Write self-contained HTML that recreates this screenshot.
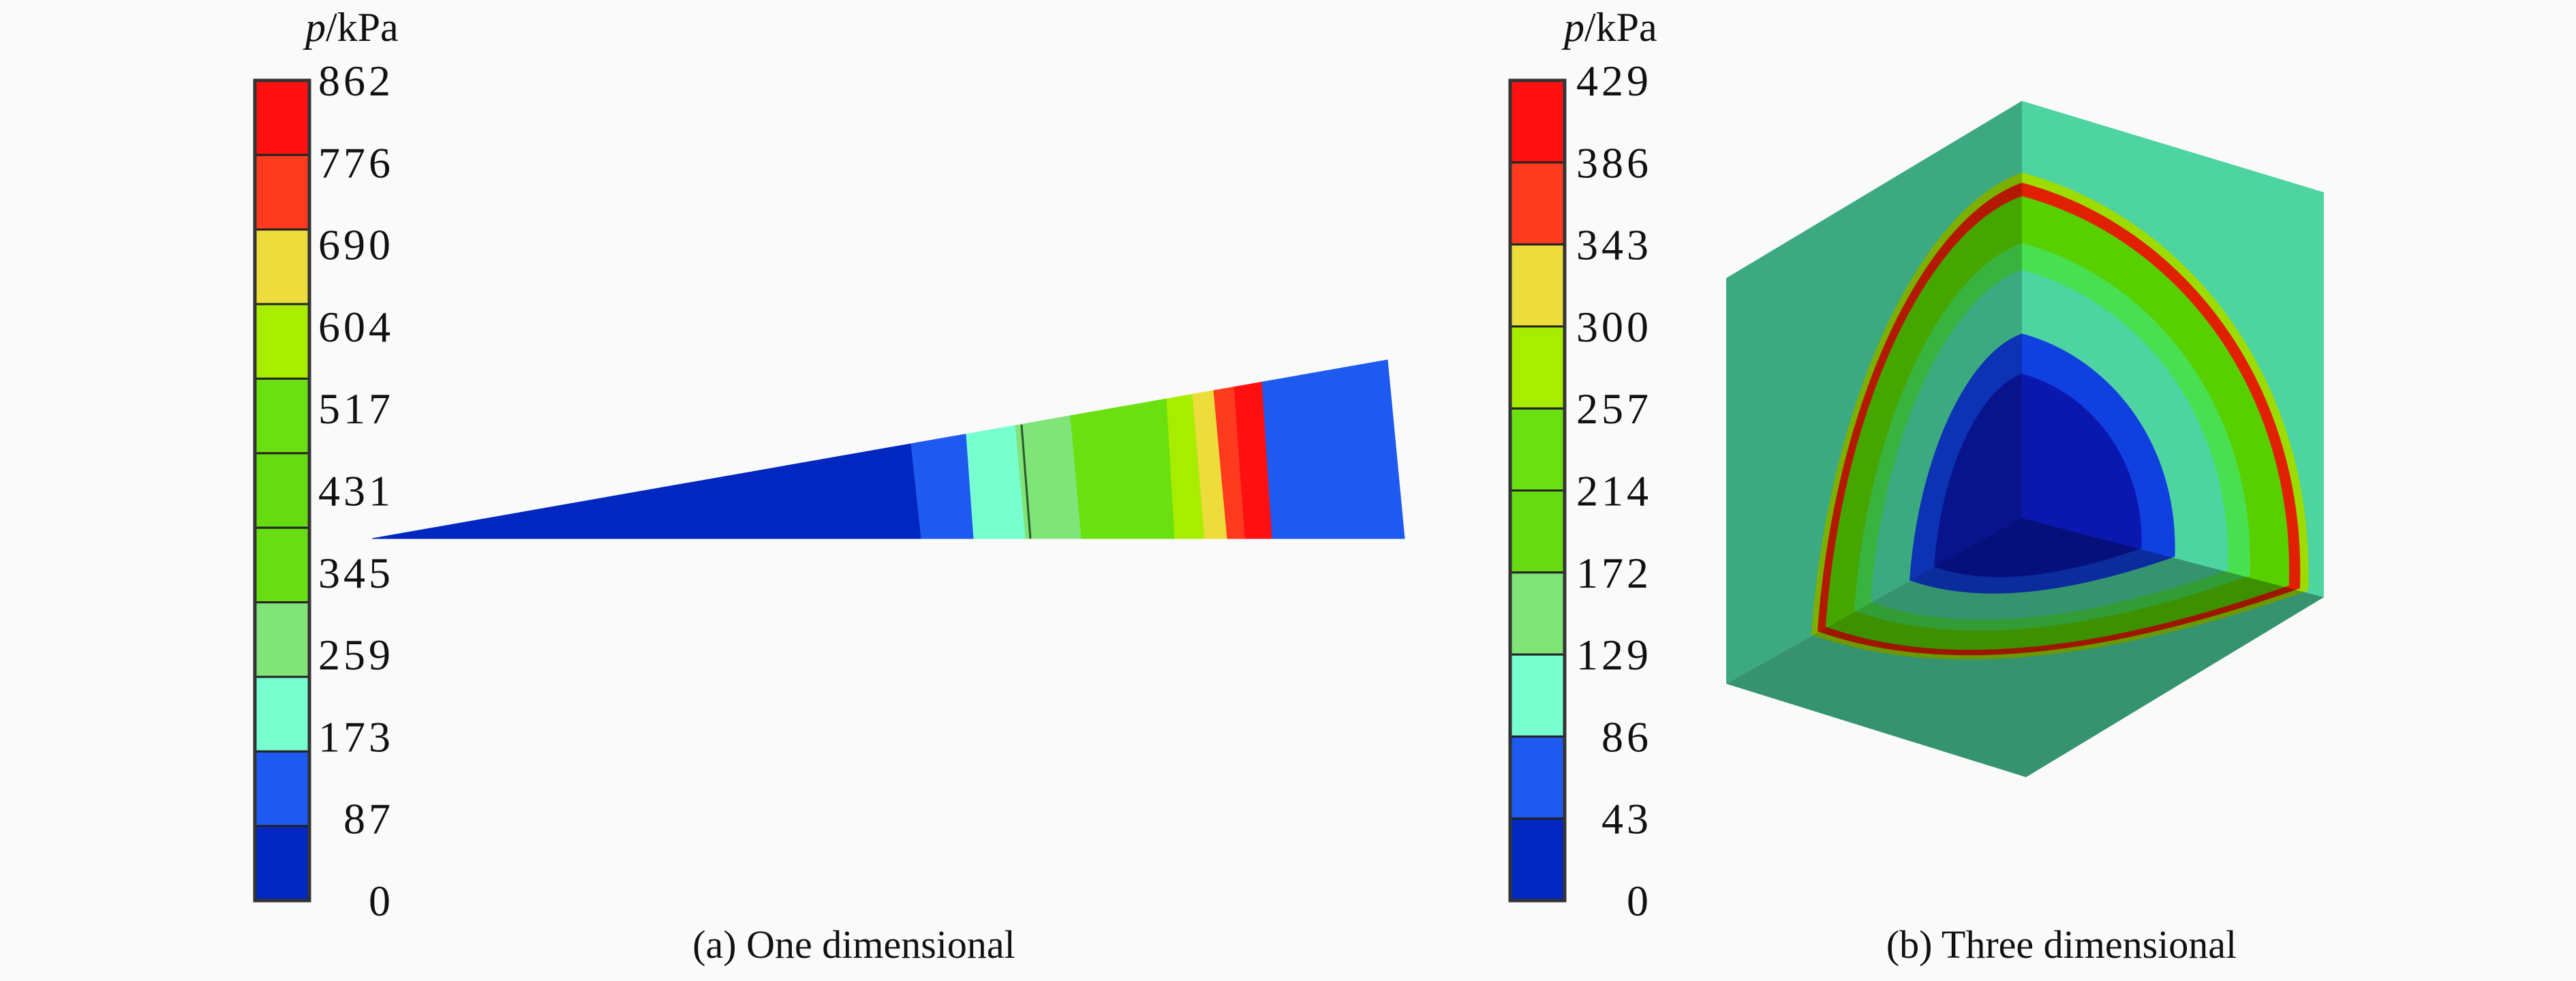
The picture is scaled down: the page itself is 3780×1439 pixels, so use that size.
<!DOCTYPE html>
<html><head><meta charset="utf-8"><style>
html,body{margin:0;padding:0;background:#fafafa}
svg{display:block}
text{font-family:"Liberation Serif",serif;fill:#111}
</style></head><body>
<svg id="fig" width="3780" height="1439" viewBox="0 0 3780 1439">
<rect width="3780" height="1439" fill="#fafafa"/>
<g id="left"></g>
<g id="right"></g>
</svg>
<script>
const leftLabels=["862","776","690","604","517","431","345","259","173","87","0"];
const leftColors=["#ff1010","#ff3a1e","#ecdc3c","#a8ec00","#6ae010","#66dc10","#68de12","#80e478","#78ffd0","#1e5af0","#0028c0"];
const rightLabels=["429","386","343","300","257","214","172","129","86","43","0"];
const rightColors=["#ff1010","#ff3a1e","#ecdc3c","#a8ec00","#6ae010","#66dc10","#80e478","#78ffd0","#1e5af0","#0028c0"];
// wedge band boundaries (x at bottom edge, x at top edge) and colors
const wedgeBottom=[546,1352,1429,1505,1587,1724,1768,1801,1827,1867,2061];
const wedgeTop=[546,1337,1418,1490,1571,1712,1750,1781,1811,1852,2036];
const wedgeColors=["#0028c0","#1e5af0","#78ffd0","#80e478","#6ae010","#a8ec00","#ecdc3c","#ff3a1e","#ff1010","#1e5af0"];
// shells (scale about inner corner) and colors, outer to inner
const shellScale=[1.03,1.0,0.96,0.82,0.74,0.55,0.43];
const shellColors=["#9cdc00","#e02000","#58d000","#48e050","#4dd4a0","#1040e0","#0a18b0"];
const NS="http://www.w3.org/2000/svg";
function mk(tag,attrs,parent){const e=document.createElementNS(NS,tag);for(const k in attrs)e.setAttribute(k,attrs[k]);parent.appendChild(e);return e;}
function colorbar(parent,x0,w,y0,y1,labels,colors,labelRight,titleX){
  const n=colors.length,h=(y1-y0)/n;
  colors.forEach((c,i)=>{
    const r=mk('rect',{x:x0,y:y0+i*h,width:w,height:h,fill:c,stroke:'#222','stroke-width':3},parent);
    
    
  });
  const fr=mk('rect',{x:x0,y:y0,width:w,height:y1-y0,fill:'none',stroke:'#333','stroke-width':5},parent);
  
  
  const step=(y1-y0)/(labels.length-1);
  labels.forEach((l,i)=>{
    const t=mk('text',{x:labelRight,y:y0+i*step+22,'text-anchor':'end','font-size':64,'letter-spacing':5,'font-family':'Liberation Serif, serif'},parent);
    t.textContent=l;
    
    
  });
  const tt=mk('text',{x:titleX,y:60,'font-size':60,'font-family':'Liberation Serif, serif'},parent);
  tt.innerHTML='<tspan font-style="italic">p</tspan>/kPa';
  
  
}
const L=document.getElementById('left'),R=document.getElementById('right');
colorbar(L,374,80,118,1321,leftLabels,leftColors,578,448);
colorbar(R,2216,80,118,1321,rightLabels,rightColors,2424,2295);
// wedge
const tipX=546,tipY=790,topRX=2036,topRY=528,botY=790;
function topY(x){return tipY+(topRY-tipY)*(x-tipX)/(topRX-tipX);}
for(let i=0;i<wedgeColors.length;i++){
  const xb0=wedgeBottom[i],xb1=wedgeBottom[i+1],xt0=wedgeTop[i],xt1=wedgeTop[i+1];
  let pts;
  if(i===0) pts=[[tipX,tipY],[xt1,topY(xt1)],[xb1,botY]];
  else pts=[[xt0,topY(xt0)],[xt1,topY(xt1)],[xb1,botY],[xb0,botY]];
  const p=mk('polygon',{points:pts.map(q=>q.join(',')).join(' '),fill:wedgeColors[i],stroke:wedgeColors[i],'stroke-width':1},L);
  
  
}
const ln=mk('line',{x1:1499,y1:topY(1496),x2:1512,y2:botY,stroke:'#2a5a2a','stroke-width':3},L);


const capA=mk('text',{x:1253,y:1405,'text-anchor':'middle','font-size':58,'font-family':'Liberation Serif, serif'},L);
capA.textContent='(a) One dimensional';


// cube
const C=[2967,760];
const cube=mk('g',{},R);


const leftFace='2533,408 2967,148 2967,760 2533,1003';
const rightFace='2967,148 3410,282 3410,876 2967,760';
const floorFace='2533,1003 2967,760 3410,876 2973,1140';
mk('polygon',{points:leftFace,fill:'#4dd4a0'},cube);
mk('polygon',{points:rightFace,fill:'#4dd4a0'},cube);
mk('polygon',{points:floorFace,fill:'#4dd4a0'},cube);
mk('clipPath',{id:'cc'},cube).innerHTML='<polygon points="2533,408 2967,148 3410,282 3410,876 2973,1140 2533,1003"/>';
const sg=mk('g',{'clip-path':'url(#cc)'},cube);
const T=[2967,268],Lp=[2667,926],Rp=[3375,863];
function rel(p,s){return [(C[0]+(p[0]-C[0])*s).toFixed(1),(C[1]+(p[1]-C[1])*s).toFixed(1)].join(' ');}
const c1=[3200,330],c2=[3385,560],c3=[2820,320],c4=[2690,600],c5=[2930,1020];
shellScale.forEach((s,i)=>{
  const d=`M${rel(T,s)} C${rel(c1,s)} ${rel(c2,s)} ${rel(Rp,s)} Q${rel(c5,s)} ${rel(Lp,s)} C${rel(c4,s)} ${rel(c3,s)} ${rel(T,s)} Z`;
  const p=mk('path',{d:d,fill:shellColors[i]},sg);
  
  
});
mk('polygon',{points:leftFace,fill:'#000','fill-opacity':0.2},cube);
mk('polygon',{points:floorFace,fill:'#000','fill-opacity':0.3},cube);
const capB=mk('text',{x:3025,y:1405,'text-anchor':'middle','font-size':58,'font-family':'Liberation Serif, serif'},R);
capB.textContent='(b) Three dimensional';


</script>
</body></html>
